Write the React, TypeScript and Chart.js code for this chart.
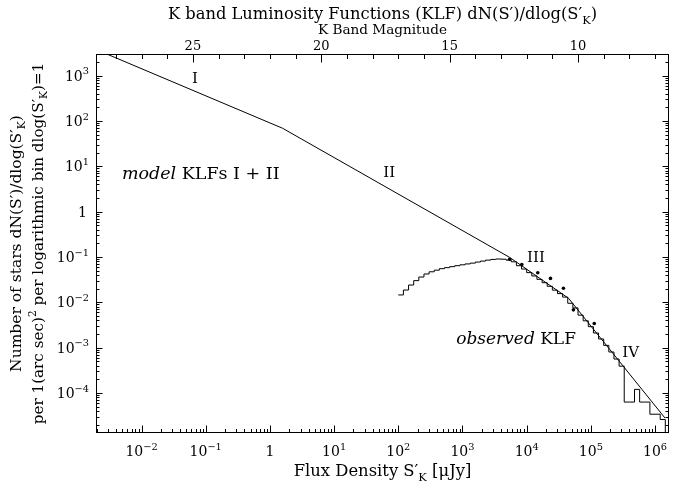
import React, { useEffect, useRef } from "react";
import { Chart, registerables } from "chart.js";

Chart.register(...registerables);

// ---------------- data ----------------
// model KLF (segments I, II, III, IV) : flux density [uJy] vs dN/dlogS
const modelFlux = [0.00287, 1.58, 5400, 45000, 1430000];
const modelN = [2980, 68.5, 0.098, 0.0122, 0.000028];

// observed KLF histogram: bin edges [uJy] (0.2 mag bins) and values
const binEdges = [
  100, 120.2, 144.5, 173.8, 208.9, 251.2, 302.0, 363.1, 436.5, 524.8,
  631.0, 758.6, 912.0, 1096, 1318, 1585, 1905, 2291, 2754, 3311,
  3981, 4786, 5754, 6918, 8318, 10000, 12023, 14454, 17378, 20893,
  25119, 30200, 36308, 43652, 52481, 63096, 75858, 91201, 109648, 131826,
  158489, 190546, 229087, 275423, 331131, 398107, 478630, 575440, 691831, 831764,
  1000000, 1202264, 1445440,
];
const binValues = [
  0.0145, 0.0186, 0.024, 0.030, 0.036, 0.042, 0.047, 0.051, 0.055, 0.058,
  0.061, 0.064, 0.067, 0.070, 0.073, 0.077, 0.081, 0.085, 0.088, 0.090,
  0.089, 0.085, 0.078, 0.064, 0.054, 0.045, 0.038, 0.032, 0.027, 0.0225,
  0.0185, 0.0155, 0.013, 0.0095, 0.0075, 0.0052, 0.0039, 0.0029, 0.0021, 0.00155,
  0.00112, 0.0008, 0.00056, 0.00039, 0.000063, 0.000063, 0.00012, 0.000063, 0.000063, 0.000034,
  0.000034, 0.000026,
];

// individual observed points
const obsFlux = [5420, 8400, 14900, 23500, 37400, 53500, 113000];
const obsN = [0.089, 0.068, 0.0446, 0.0336, 0.0203, 0.0068, 0.0034];

// axis ranges
const xMin = 0.001952;
const xMax = 1.65e6;
const yMin = 1.31e-5;
const yMax = 2980;
const magZeroPoint = 22.0; // K mag = zp - 2.5 log10(S/uJy)

// tick labels
const xTickValues = [0.01, 0.1, 1, 10, 100, 1000, 1e4, 1e5, 1e6];
const xTickLabels = ["10^−2", "10^−1", "1", "10^1", "10^2", "10^3", "10^4", "10^5", "10^6"];
const yTickValues = [1e-4, 1e-3, 1e-2, 1e-1, 1, 10, 100, 1000];
const yTickLabels = ["10^−4", "10^−3", "10^−2", "10^−1", "1", "10^1", "10^2", "10^3"];
const magTickValues = [25, 20, 15, 10];
const magTickLabels = ["25", "20", "15", "10"];

// ---------------- text helpers ----------------
type Seg = { t: string; s?: "sup" | "sub"; i?: boolean };
const FAMILY = '"DejaVu Serif", serif';

function fontOf(seg: Seg, size: number) {
  const sz = seg.s ? size * 0.7 : size;
  return `${seg.i ? "italic " : ""}${sz}px ${FAMILY}`;
}
function richWidth(ctx: CanvasRenderingContext2D, segs: Seg[], size: number) {
  let w = 0;
  for (const s of segs) {
    ctx.font = fontOf(s, size);
    w += ctx.measureText(s.t).width;
  }
  return w;
}
function drawRich(
  ctx: CanvasRenderingContext2D,
  segs: Seg[],
  x: number,
  y: number,
  size: number,
  align: "left" | "center" | "right"
) {
  const w = richWidth(ctx, segs, size);
  let cx = align === "center" ? x - w / 2 : align === "right" ? x - w : x;
  ctx.textAlign = "left";
  for (const s of segs) {
    ctx.font = fontOf(s, size);
    const dy = s.s === "sup" ? -0.45 * size : s.s === "sub" ? 0.28 * size : 0;
    ctx.fillText(s.t, cx, y + dy);
    cx += ctx.measureText(s.t).width;
  }
}
function parsePow(label: string): Seg[] {
  const p = label.split("^");
  return p.length > 1 ? [{ t: p[0] }, { t: p[1], s: "sup" }] : [{ t: p[0] }];
}

const titleSegs: Seg[] = [
  { t: "K band Luminosity Functions (KLF) dN(S′)/dlog(S′" },
  { t: "K", s: "sub" },
  { t: ")" },
];
const xTitleSegs: Seg[] = [{ t: "Flux Density S′" }, { t: "K", s: "sub" }, { t: " [μJy]" }];
const yTitle1: Seg[] = [{ t: "Number of stars dN(S′)/dlog(S′" }, { t: "K", s: "sub" }, { t: ")" }];
const yTitle2: Seg[] = [
  { t: "per 1(arc sec)" },
  { t: "2", s: "sup" },
  { t: " per logarithmic bin dlog(S′" },
  { t: "K", s: "sub" },
  { t: ")=1" },
];

// annotation texts placed in data coordinates (baseline)
const notes: { segs: Seg[]; x: number; y: number; align: "left" | "center"; size: number }[] = [
  { segs: [{ t: "I" }], x: 0.068, y: 693, align: "center", size: 15 },
  { segs: [{ t: "II" }], x: 72, y: 5.8, align: "center", size: 15 },
  { segs: [{ t: "III" }], x: 13960, y: 0.0783, align: "center", size: 15 },
  { segs: [{ t: "IV" }], x: 4.16e5, y: 6.3e-4, align: "center", size: 15 },
  { segs: [{ t: "model", i: true }, { t: " KLFs I + II" }], x: 0.00494, y: 5.22, align: "left", size: 17.5 },
  { segs: [{ t: "observed", i: true }, { t: " KLF" }], x: 798, y: 0.00118, align: "left", size: 17 },
];

const framePlugin = {
  id: "framePlugin",
  afterDraw(chart: any) {
    const ctx: CanvasRenderingContext2D = chart.ctx;
    const ca = chart.chartArea;
    const left = Math.round(ca.left) + 0.5;
    const right = Math.round(ca.right) - 0.5;
    const top = Math.round(ca.top) + 0.5;
    const bottom = Math.round(ca.bottom) - 0.5;
    const xs = chart.scales.x;
    const ys = chart.scales.y;
    const ms = chart.scales.x2;
    ctx.save();
    ctx.strokeStyle = "#000";
    ctx.fillStyle = "#000";
    ctx.lineWidth = 1;
    ctx.strokeRect(left, top, right - left, bottom - top);
    ctx.beginPath();
    for (let e = -4; e <= 6; e++) {
      for (let k = 1; k <= 9; k++) {
        const v = k * Math.pow(10, e);
        if (v < xMin || v > xMax) continue;
        const px = Math.round(xs.getPixelForValue(v)) + 0.5;
        const len = k === 1 ? 7 : 3.5;
        ctx.moveTo(px, bottom);
        ctx.lineTo(px, bottom - len);
      }
    }
    for (let e = -6; e <= 3; e++) {
      for (let k = 1; k <= 9; k++) {
        const v = k * Math.pow(10, e);
        if (v < yMin || v > yMax) continue;
        const py = Math.round(ys.getPixelForValue(v)) + 0.5;
        const len = k === 1 ? 6 : 3;
        ctx.moveTo(left, py);
        ctx.lineTo(left + len, py);
        ctx.moveTo(right, py);
        ctx.lineTo(right - len, py);
      }
    }
    for (let m = 6; m <= 29; m++) {
      const px = Math.round(ms.getPixelForValue(m)) + 0.5;
      if (px < left || px > right) continue;
      const len = m % 5 === 0 ? 8 : 4.5;
      ctx.moveTo(px, top);
      ctx.lineTo(px, top + len);
    }
    ctx.stroke();

    // tick labels
    ctx.textBaseline = "alphabetic";
    xTickValues.forEach((v, i) => {
      drawRich(ctx, parsePow(xTickLabels[i]), xs.getPixelForValue(v), 456, 14, "center");
    });
    yTickValues.forEach((v, i) => {
      const segs = parsePow(yTickLabels[i]);
      const py = ys.getPixelForValue(v);
      drawRich(ctx, segs, segs.length > 1 ? 89 : 87, py + 5, 14, "right");
    });
    magTickValues.forEach((m, i) => {
      drawRich(ctx, [{ t: magTickLabels[i] }], ms.getPixelForValue(m), 50, 13, "center");
    });

    // titles
    const cx = (ca.left + ca.right) / 2;
    drawRich(ctx, titleSegs, cx, 19, 16.3, "center");
    drawRich(ctx, [{ t: "K Band Magnitude" }], cx, 34, 13.6, "center");
    drawRich(ctx, xTitleSegs, cx, 476, 16.4, "center");
    const cy = (ca.top + ca.bottom) / 2;
    ctx.save();
    ctx.translate(21, cy);
    ctx.rotate(-Math.PI / 2);
    drawRich(ctx, yTitle1, 0, 0, 15.5, "center");
    ctx.restore();
    ctx.save();
    ctx.translate(43, cy);
    ctx.rotate(-Math.PI / 2);
    drawRich(ctx, yTitle2, 0, 0, 15.2, "center");
    ctx.restore();

    // annotations
    notes.forEach((n) => {
      drawRich(ctx, n.segs, xs.getPixelForValue(n.x), ys.getPixelForValue(n.y), n.size, n.align);
    });
    ctx.restore();
  },
};

export default function App() {
  const ref = useRef<HTMLCanvasElement>(null);
  useEffect(() => {
    const canvas = ref.current!;
    const histData = binValues.map((v, i) => ({ x: binEdges[i], y: v }));
    const lastEdge = binEdges[binEdges.length - 1];
    histData.push({ x: lastEdge, y: binValues[binValues.length - 1] });
    histData.push({ x: lastEdge, y: yMin / 10 });

    const chart = new Chart(canvas, {
      type: "line",
      data: {
        datasets: [
          {
            data: histData,
            borderColor: "#000",
            borderWidth: 1,
            pointRadius: 0,
            stepped: true,
            fill: false,
            tension: 0,
          } as any,
          {
            data: modelFlux.map((x, i) => ({ x, y: modelN[i] })),
            borderColor: "#000",
            borderWidth: 1,
            pointRadius: 0,
            fill: false,
            tension: 0,
          },
          {
            data: obsFlux.map((x, i) => ({ x, y: obsN[i] })),
            showLine: false,
            pointRadius: 1.8,
            pointBackgroundColor: "#000",
            pointBorderWidth: 0,
            borderColor: "#000",
          },
        ],
      },
      options: {
        responsive: false,
        devicePixelRatio: 1,
        animation: false,
        events: [],
        layout: { padding: { left: 0, right: 2.3, top: 0, bottom: 0 } },
        plugins: { legend: { display: false }, tooltip: { enabled: false }, title: { display: false } },
        scales: {
          x: {
            type: "logarithmic",
            position: "bottom",
            min: xMin,
            max: xMax,
            ticks: { display: false },
            grid: { display: false, drawTicks: false },
            border: { display: false },
            afterFit: (s: any) => {
              s.height = 56;
            },
          },
          x2: {
            type: "linear",
            position: "top",
            reverse: true,
            min: magZeroPoint - 2.5 * Math.log10(xMax),
            max: magZeroPoint - 2.5 * Math.log10(xMin),
            ticks: { display: false },
            grid: { display: false, drawTicks: false },
            border: { display: false },
            afterFit: (s: any) => {
              s.height = 54;
            },
          },
          y: {
            type: "logarithmic",
            position: "left",
            min: yMin,
            max: yMax,
            ticks: { display: false },
            grid: { display: false, drawTicks: false },
            border: { display: false },
            afterFit: (s: any) => {
              s.width = 96;
            },
          },
        },
      } as any,
      plugins: [framePlugin],
    });
    return () => chart.destroy();
  }, []);
  return (
    <canvas
      ref={ref}
      width={673}
      height={489}
      style={{ position: "fixed", left: 0, top: 0, width: 673, height: 489, display: "block" }}
    />
  );
}
